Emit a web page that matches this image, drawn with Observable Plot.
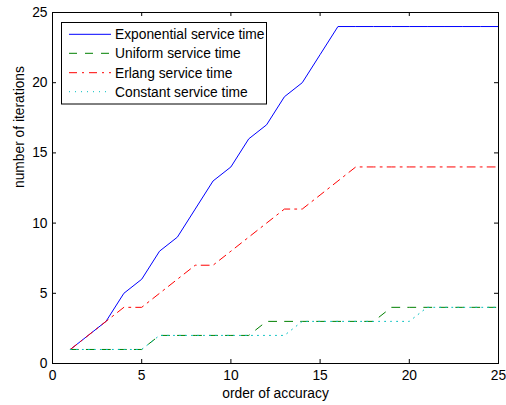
<!DOCTYPE html>
<html>
<head>
<meta charset="utf-8">
<script src="https://cdn.jsdelivr.net/npm/d3@7"></script>
<script src="https://cdn.jsdelivr.net/npm/@observablehq/plot@0.6"></script>
<style>
  html, body { margin: 0; padding: 0; background: white; }
  #chart { position: relative; width: 506px; height: 405px; }
</style>
</head>
<body>
<div id="chart"></div>
<script>
const order = [1,2,3,4,5,6,7,8,9,10,11,12,13,14,15,16,17,18,19,20,21,22,23,24,25];
const exponential = [1,2,3,5,6,8,9,11,13,14,16,17,19,20,22,24,24,24,24,24,24,24,24,24,24];
const uniform     = [1,1,1,1,1,2,2,2,2,2,2,3,3,3,3,3,3,3,4,4,4,4,4,4,4];
const erlang      = [1,2,3,4,4,5,6,7,7,8,9,10,11,11,12,13,14,14,14,14,14,14,14,14,14];
const constant    = [1,1,1,1,1,2,2,2,2,2,2,2,2,3,3,3,3,3,3,3,4,4,4,4,4];
const seriesNames = ["Exponential service time","Uniform service time","Erlang service time","Constant service time"];
const seriesColors = ["#0000ff","#008000","#ff0000","#00bfbf"];
const seriesDash = [null, "8,8", "8,5,2,5", "1,5"];
const xTicks = [0,5,10,15,20,25];
const yTicks = [0,5,10,15,20,25];
const xLabel = "order of accuracy";
const yLabel = "number of iterations";

const allSeries = [exponential, uniform, erlang, constant];
const drawOrder = [0,1,2,3];

const W = 506, H = 405, mL = 52, mR = 8, mT = 12, mB = 42;
const fw = W - mL - mR, fh = H - mT - mB;
const font = "'Liberation Sans', Arial, Helvetica, sans-serif";
const fs = 13.8;

const lineMarks = drawOrder.map(i => Plot.line(order.map((x, k) => ({x, y: allSeries[i][k]})), {
  x: "x", y: "y", stroke: seriesColors[i], strokeWidth: 1,
  strokeDasharray: seriesDash[i] ?? undefined
}));

const plot = Plot.plot({
  width: W, height: H,
  marginLeft: mL, marginRight: mR, marginTop: mT, marginBottom: mB,
  style: {fontFamily: font, fontSize: fs + "px", background: "white", color: "black"},
  x: {domain: [0, 25]},
  y: {domain: [0, 25]},
  marks: [
    ...lineMarks,
    Plot.frame({stroke: "black", strokeWidth: 1}),
    Plot.tickX(xTicks, {x: d => d, insetTop: fh - 4, stroke: "black"}),
    Plot.tickX(xTicks, {x: d => d, insetBottom: fh - 4, stroke: "black"}),
    Plot.tickY(yTicks, {y: d => d, insetRight: fw - 4, stroke: "black"}),
    Plot.tickY(yTicks, {y: d => d, insetLeft: fw - 4, stroke: "black"}),
    Plot.axisX(xTicks, {tickSize: 0, tickPadding: 7, label: null, fontSize: fs}),
    Plot.axisY(yTicks, {tickSize: 0, tickPadding: 5, label: null, fontSize: fs}),
    Plot.text([xLabel], {text: d => d, frameAnchor: "bottom", dy: 30, lineAnchor: "middle", fontSize: fs}),
    Plot.text([yLabel], {text: d => d, frameAnchor: "left", dx: -33, rotate: -90, lineAnchor: "middle", fontSize: fs})
  ]
});
document.getElementById("chart").appendChild(plot);

// legend (inside the axes, top-left)
const svg = d3.select(plot);
const lg = svg.append("g").attr("font-family", font).attr("font-size", fs).attr("text-anchor", "start");
const box = {x: 61.5, y: 22.5, w: 205, h: 81.5};
lg.append("rect").attr("x", box.x).attr("y", box.y).attr("width", box.w).attr("height", box.h)
  .attr("fill", "white").attr("stroke", "black").attr("stroke-width", 1);
const rowY = [34.3, 53.3, 72.7, 91.7];
seriesNames.forEach((name, i) => {
  lg.append("line").attr("x1", 69).attr("x2", 111).attr("y1", rowY[i]).attr("y2", rowY[i])
    .attr("stroke", seriesColors[i]).attr("stroke-width", 1)
    .attr("stroke-dasharray", seriesDash[i]);
  lg.append("text").attr("x", 115).attr("y", rowY[i]).attr("dy", "0.35em").attr("fill", "black")
    .attr("text-anchor", "start").text(name);
});
</script>
</body>
</html>
